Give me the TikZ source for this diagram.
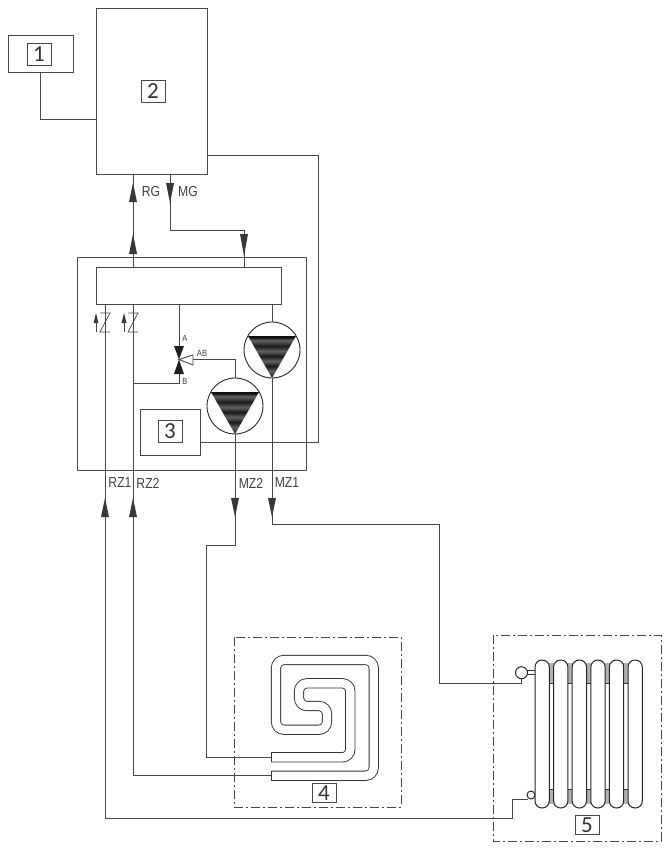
\documentclass[tikz,border=0pt]{standalone}
\usepackage{fontspec}
\setmainfont{Carlito}
\newfontfamily\pipefont[FakeStretch=0.84]{Liberation Sans}
\usetikzlibrary{shapes.geometric}
\definecolor{linegray}{gray}{0.28}
\pgfdeclareverticalshading{pumpbands}{100bp}{
  color(0bp)=(black!90);
  color(25bp)=(black!90);
  color(33bp)=(black!62);
  color(39bp)=(black!90);
  color(45bp)=(black!62);
  color(51bp)=(black!90);
  color(57bp)=(black!62);
  color(63bp)=(black!90);
  color(70bp)=(black!60);
  color(73.5bp)=(black!95);
  color(100bp)=(black!95)}
\tikzset{
  pipe/.style={draw=linegray,line width=0.9pt},
  unitbox/.style={draw=linegray,line width=0.9pt,inner sep=0pt,minimum width=#1},
  tagbox/.style={draw=linegray,line width=0.9pt,inner sep=0pt,minimum width=24pt,minimum height=22pt,font=\fontsize{23}{23}\selectfont,text=black!80},
  zonebox/.style={draw=linegray,line width=0.9pt,dash pattern=on 9pt off 3pt on 2pt off 3pt},
  pipelabel/.style={inner sep=0pt,font=\pipefont\fontsize{14.5}{16}\selectfont,text=black!75},
  valvelabel/.style={inner sep=0pt,font=\pipefont\fontsize{9}{9}\selectfont,text=black!75},
  pumpbody/.style={circle,draw=black!85,line width=0.9pt,fill=white,inner sep=0pt,minimum size=56pt},
  fitting/.style={circle,draw=black!85,line width=1pt,fill=white,inner sep=0pt,minimum size=#1},
  coilpipe/.style={draw=black!80,line width=0.9pt,double=white,double distance=8.4pt,rounded corners=8pt},
  tipfill/.style={fill=black!78}
}
\begin{document}
\begin{tikzpicture}[x=1pt,y=-1pt]
      \useasboundingbox (0,0) rectangle (671,854);
      \node[unitbox=65pt,minimum height=37pt] (sensor) at (40.5,53.5) {};
      \node[unitbox=111pt,minimum height=166pt] (boiler) at (151.5,91) {};
      \node[unitbox=229pt,minimum height=213pt] (module) at (191.5,363.5) {};
      \node[unitbox=185pt,minimum height=37pt] (manifold) at (188.5,285.5) {};
      \node[unitbox=60pt,minimum height=46pt] (control) at (170,432) {};
      \node[tagbox] (tag1) at (39,54) {1};
      \node[tagbox] (tag2) at (153,91) {2};
      \node[tagbox] (tag3) at (170,431) {3};
      \draw[zonebox] (234,637) rectangle (401,807);
      \draw[zonebox] (493,635) rectangle (661,841);
      \node[tagbox,minimum height=19pt] (tag4) at (324,793) {4};
      \node[tagbox,minimum height=19pt] (tag5) at (587,825) {5};
      \coordinate (wireA) at (96,119);
      \coordinate (wireB) at (207,155);
      \coordinate (wireC) at (318,442);
      \coordinate (wireD) at (200,442);
      \coordinate (rgtop) at (133,174);
      \coordinate (rgend) at (133,267);
      \coordinate (mgtop) at (170,174);
      \coordinate (mgmid) at (244,230);
      \coordinate (mgend) at (244,267);
      \coordinate (rz1top) at (105,304);
      \coordinate (rz1mid) at (512,818);
      \coordinate (rz1end) at (528,799);
      \coordinate (rz2top) at (133,304);
      \coordinate (coilA) at (271.3,757.3);
      \coordinate (coilB) at (271.3,775.7);
      \coordinate (mz1mid) at (439,524);
      \coordinate (mz1end) at (521.5,683);
      \coordinate (mz2mid) at (206,545);
      \coordinate (valveA) at (179,304);
      \coordinate (valveT) at (179,346);
      \coordinate (valveC) at (179,359.5);
      \coordinate (valveB) at (179,374);
      \coordinate (valveD) at (133,383);
      \coordinate (valveS) at (193,359.5);
      \coordinate (pumpfeed) at (272,304);
      \node[pumpbody] (pump1) at (272,350) {};
      \node[pumpbody] (pump2) at (235,406) {};
      \node[fitting=12pt] (radtop) at (521.5,672.7) {};
      \node[fitting=8pt] (radlow) at (531,795) {};
      \begin{scope}[pipe]
        \draw (sensor.south) |- (wireA);
        \draw (wireB) -| (wireC) -- (wireD);
        \draw (rgtop) -- (rgend);
        \draw (mgtop) |- (mgmid) -- (mgend);
        \draw (rz1top) |- (rz1mid) |- (rz1end);
        \draw (rz2top) |- (coilB);
        \draw (pump2.south) |- (mz2mid) |- (coilA);
        \draw (pump1.south) |- (mz1mid) |- (mz1end) -- (radtop.south);
        \draw (pumpfeed) -- (pump1.north);
        \draw (valveA) -- (valveT);
        \draw (valveB) |- (valveD);
        \draw (valveS) -| (pump2.north);
      \end{scope}
      \foreach \px/\py in {272/350,235/406} {
        \shade[shading=pumpbands] (\px-24,\py-14) -- (\px+24,\py-14) -- (\px,\py+28) -- cycle;
      }
      \foreach \px/\py/\len in {133/183/19,133/234/20,105/498/19,133/498/19,170/203/-20,244/256/-22,235/517/-19,272/517/-19} {
        \fill[tipfill] (\px,\py) -- (\px+4,\py+\len) -- (\px-4,\py+\len) -- cycle;
      }
      \foreach \px/\zx in {96/105,124/133} {
        \fill[tipfill] (\px,313) -- (\px+2.5,323) -- (\px-2.5,323) -- cycle;
        \draw[pipe,line width=0.8pt] (\px,320) -- (\px,332);
        \draw[pipe,line width=0.7pt] (\zx-5,313) -- (\zx+5,313) -- (\zx-5,332) -- (\zx+5,332);
      }
      \fill[black!88] (valveC) -- (174,346) -- (184,346) -- cycle;
      \fill[black!88] (valveC) -- (174,374) -- (184,374) -- cycle;
      \draw[pipe,fill=white] (valveC) -- (193,355) -- (193,365) -- cycle;
      \node[valvelabel] (labelA) at (185,338) {A};
      \node[valvelabel] (labelB) at (185,381) {B};
      \node[valvelabel] (labelAB) at (202,353) {AB};
      \node[pipelabel] (labelRG) at (151,192) {RG};
      \node[pipelabel] (labelMG) at (188,192) {MG};
      \node[pipelabel] (labelRZ1) at (120,483) {RZ1};
      \node[pipelabel] (labelRZ2) at (148,483) {RZ2};
      \node[pipelabel] (labelMZ2) at (251,483) {MZ2};
      \node[pipelabel] (labelMZ1) at (287,483) {MZ1};
      \draw[coilpipe] (coilB) -- (373.7,775.7) -- (373.7,660) -- (276,660) -- (276,729.7) -- (327,729.7)
        -- (327,706) -- (299,706) -- (299,683.3) -- (350.3,683.3) -- (350.3,757.3) -- (coilA);
      \draw[draw=black!80,line width=0.9pt] (271.3,752.4) -- (271.3,762.2);
      \draw[draw=black!80,line width=0.9pt] (271.3,770.8) -- (271.3,780.6);
      \draw[draw=black!80,line width=0.7pt] (526.5,670) -- (535,670);
      \draw[draw=black!80,line width=0.7pt] (526.5,674.5) -- (535,674.5);
      \foreach \cx in {549,567.6,586.2,604.8,623.4} {
        \fill[black!30] (\cx,663) rectangle (\cx+5,683);
        \fill[black!30] (\cx,789) rectangle (\cx+5,804);
        \draw[draw=black!80,line width=0.8pt] (\cx,683) -- (\cx+5,683);
        \draw[draw=black!80,line width=0.8pt] (\cx,789) -- (\cx+5,789);
      }
      \foreach \cx in {535,553.6,572.2,590.8,609.4,628} {
        \draw[draw=black!85,line width=1pt,fill=white,rounded corners=7pt] (\cx,660) rectangle (\cx+14.3,808);
      }
    \end{tikzpicture}
\end{document}
